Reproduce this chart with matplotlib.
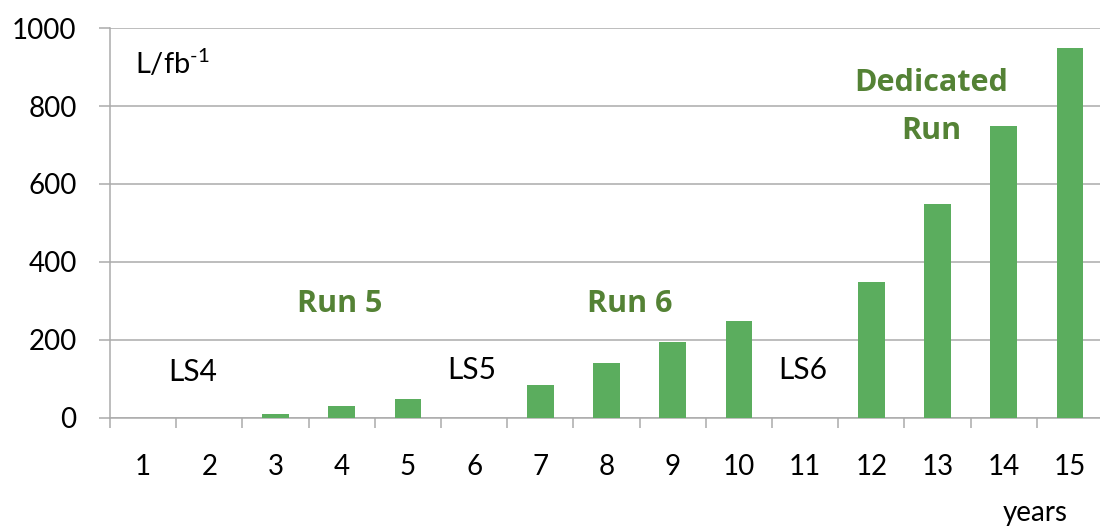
import matplotlib
matplotlib.use("Agg")
import matplotlib.pyplot as plt

# data
years = list(range(1, 16))
lumi = [0, 0, 10, 30, 50, 0, 85, 140, 195, 250, 0, 350, 550, 750, 950]
yticks = [0, 200, 400, 600, 800, 1000]

# labels placed over the chart: (text, x, y, is_run)
phase_labels = [
    ("LS4", 1.75, 118, False),
    ("Run 5", 3.97, 293, True),
    ("LS5", 5.97, 123, False),
    ("Run 6", 8.35, 293, True),
    ("LS6", 10.97, 123, False),
    ("Dedicated", 12.9, 858, True),
    ("Run", 12.9, 736, True),
]

bar_color = "#5BAD5E"
text_green = "#548235"
grid_color = "#ABABAB"

plt.rcParams["font.family"] = ["Lato", "DejaVu Sans"]
plt.rcParams["mathtext.fontset"] = "custom"
plt.rcParams["mathtext.rm"] = "Lato"
plt.rcParams["mathtext.default"] = "regular"

fig = plt.figure(figsize=(11, 5.27), dpi=100)
ax = fig.add_axes([110 / 1100, 109 / 527, 993 / 1100, 390 / 527])

ax.bar(years, lumi, width=0.4, color=bar_color, zorder=3)

ax.set_xlim(0.5, 15.5)
ax.set_ylim(0, 1000)
ax.set_yticks(yticks)
ax.set_xticks(years)
ax.set_xticks([y - 0.5 for y in years] + [15.5], minor=True)

ax.grid(axis="y", color=grid_color, linewidth=1.1, zorder=0)
for side in ["top", "right"]:
    ax.spines[side].set_visible(False)
for side in ["left", "bottom"]:
    ax.spines[side].set_color(grid_color)
    ax.spines[side].set_linewidth(1.1)

ax.tick_params(axis="y", length=8, width=1.1, color=grid_color, pad=16,
               labelsize=20)
ax.tick_params(axis="x", which="major", length=0, pad=26, labelsize=20)
ax.tick_params(axis="x", which="minor", length=7.5, width=1.1,
               color=grid_color)

for text, x, y, is_run in phase_labels:
    if is_run:
        ax.text(x, y, text, ha="center", va="center", fontsize=22,
                fontweight="bold", color=text_green,
                family=["Open Sans", "DejaVu Sans"])
    else:
        ax.text(x, y, text, ha="center", va="center", fontsize=21.5,
                color="black")

ax.text(0.88, 908, r"L/fb$^{\text{-}1}$", ha="left", va="center",
        fontsize=21)
fig.text(1035 / 1100, 6 / 527, "years", ha="center", va="baseline",
         fontsize=20)

fig.savefig("out.png", dpi=100)
